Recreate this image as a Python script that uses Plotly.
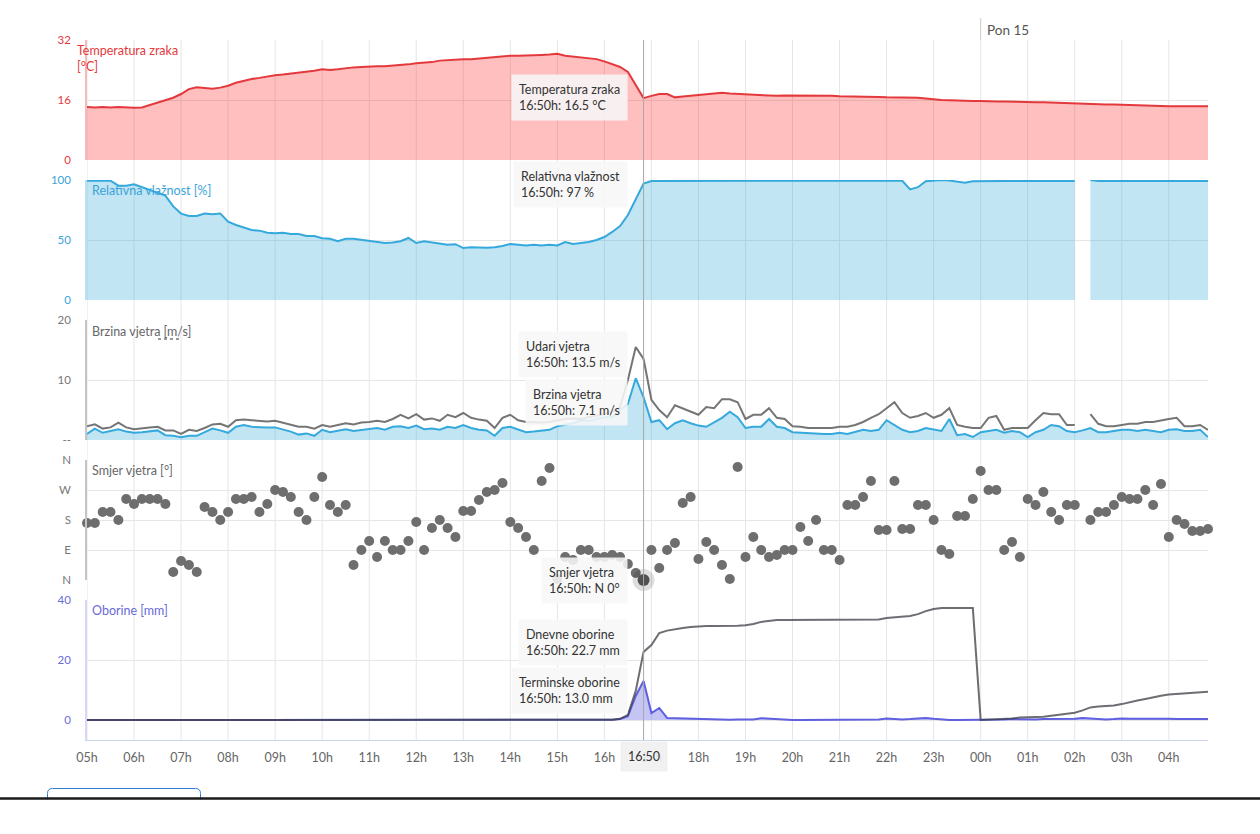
import pandas as pd
import plotly.graph_objects as go

# ---------------- data (10-minute steps, 05:00 -> 04:50 next day) ----------------
times = pd.date_range("2024-07-14 05:00", periods=144, freq="10min")

temperature = [
    14.1, 14.0, 14.1, 14.0, 14.1, 14.0, 13.9, 14.0, 14.6, 15.2, 15.8, 16.6,
    17.6, 18.9, 19.4, 19.2, 19.0, 19.3, 19.8, 20.6, 21.2, 21.6, 21.9, 22.3,
    22.6, 22.8, 23.0, 23.2, 23.5, 23.8, 24.2, 24.0, 24.2, 24.5, 24.7, 24.8,
    25.0, 25.0, 25.0, 25.1, 25.3, 25.5, 25.8, 25.9, 26.1, 26.5, 26.7, 26.8,
    26.9, 26.9, 27.1, 27.3, 27.5, 27.7, 27.8, 27.8, 27.8, 27.9, 28.0, 28.1,
    28.3, 27.8, 27.6, 27.5, 27.2, 26.9, 26.3, 25.6, 24.8, 23.5, 20.0, 16.5,
    17.1, 17.6, 17.6, 16.7, 16.9, 17.1, 17.3, 17.6, 17.9, 17.9, 17.7, 17.6,
    17.5, 17.3, 17.3, 17.1, 17.1, 17.2, 17.2, 17.3, 17.2, 17.2, 17.1, 17.1,
    17.0, 17.0, 16.9, 16.9, 16.8, 16.8, 16.7, 16.7, 16.6, 16.5, 16.6, 16.4,
    16.1, 16.0, 15.9, 15.8, 15.8, 15.7, 15.7, 15.6, 15.6, 15.6, 15.5, 15.5,
    15.5, 15.4, 15.4, 15.3, 15.3, 15.2, 15.2, 15.1, 15.0, 14.9, 14.8, 14.8,
    14.7, 14.6, 14.5, 14.5, 14.4, 14.4, 14.3, 14.3, 14.3, 14.3, 14.3, 14.3,
]

humidity = [
    99.4, 99.4, 100, 99.4, 95.3, 95.3, 96.4, 94, 91.7, 89.5, 87, 78,
    72, 70, 70, 72, 71.4, 72, 65.3, 62.5, 60.3, 58.3, 57.8, 56.1,
    55.6, 56.1, 55, 55, 53.3, 53.3, 51.4, 51, 49, 51, 51, 50,
    49, 48, 47.5, 48, 49, 51.7, 47.5, 49, 48, 47.5, 46, 46.5,
    43.3, 44, 43.5, 43.5, 44, 45, 46.7, 46, 45.5, 46, 45.5, 46,
    45.5, 48.3, 46.7, 47.5, 48.3, 50, 52.5, 56.7, 61.7, 70.8, 83.3, 97,
    99.2, 99.2, 99.2, 99.2, 99.2, 99.2, 99.2, 99.2, 99.2, 99.2, 99.2, 99.2,
    99.2, 99.2, 99.2, 99.2, 99.2, 99.2, 99.2, 99.2, 99.2, 99.2, 99.2, 99.2,
    99.2, 99.2, 99.2, 99.2, 99.2, 99.2, 99.2, 99.2, 99.4, 92.2, 94, 99,
    99.5, 100, 99.5, 98.5, 97.8, 99, 99.2, 99.2, 99.2, 99.2, 99.2, 99.2,
    99.2, 99.2, 99.2, 99.2, 99.2, 99.2, 99.2, None, 100, 99.2, 99.2, 99.2,
    99.2, 99.2, 99.2, 99.2, 99.2, 99.2, 99.2, 99.2, 99.2, 99.2, 99.2, 99.2,
]

wind_speed = [
    1.0, 1.9, 1.2, 1.5, 1.8, 1.4, 1.2, 1.3, 1.4, 1.6, 0.8, 0.7,
    0.45, 0.7, 0.7, 1.3, 1.9, 1.6, 1.2, 2.2, 2.5, 2.2, 2.1, 2.1,
    2.1, 1.8, 1.4, 0.9, 1.1, 0.7, 1.7, 1.3, 1.6, 1.8, 1.5, 1.7,
    1.8, 2.0, 1.7, 2.2, 2.3, 2.0, 2.4, 1.8, 1.9, 1.7, 2.2, 2.0,
    2.5, 2.0, 1.7, 1.6, 0.7, 2.0, 2.2, 1.8, 1.3, 1.4, 1.6, 1.7,
    2.3, 2.5, 2.8, 3.3, 3.2, 3.5, 3.8, 3.8, 5.0, 6.0, 10.3, 7.1,
    3.0, 3.3, 1.8, 2.8, 3.3, 2.8, 2.4, 2.2, 3.0, 3.7, 4.7, 3.8,
    2.0, 2.2, 2.2, 3.5, 2.2, 2.0, 1.3, 1.2, 1.2, 1.0, 1.0, 1.0,
    1.2, 1.0, 1.3, 1.7, 1.5, 1.7, 3.3, 2.5, 1.7, 1.3, 1.5, 2.0,
    1.7, 1.5, 3.5, 0.8, 1.0, 0.5, 1.3, 1.5, 1.7, 1.2, 1.5, 1.3,
    0.5, 1.3, 1.7, 2.5, 2.3, 1.5, 1.3, 1.6, 2.0, 1.3, 1.3, 1.5,
    1.7, 1.7, 1.5, 1.7, 1.5, 1.3, 1.7, 1.8, 1.5, 1.5, 1.7, 0.5,
]

wind_gust = [
    2.3, 2.6, 1.9, 2.1, 2.9, 2.1, 1.8, 2.0, 2.1, 2.2, 1.6, 1.6,
    1.0, 1.7, 1.5, 2.0, 2.6, 2.7, 2.2, 3.3, 3.4, 3.3, 3.2, 3.1,
    3.2, 2.9, 2.5, 2.2, 2.2, 1.9, 2.5, 2.2, 2.5, 2.8, 2.6, 2.9,
    3.0, 3.2, 3.0, 3.5, 4.2, 3.6, 4.3, 3.4, 3.6, 3.2, 4.2, 3.8,
    4.5, 3.7, 3.4, 3.2, 2.0, 3.7, 4.2, 3.3, 3.0, 2.9, 2.9, 3.0,
    3.3, 3.5, 3.6, 3.5, 3.8, 4.0, 4.3, 4.7, 5.5, 10.0, 15.5, 13.5,
    6.7, 5.0, 3.8, 5.8, 5.3, 4.8, 4.2, 5.5, 5.3, 6.8, 6.8, 6.3,
    3.5, 4.2, 4.2, 5.3, 3.7, 3.5, 2.3, 2.2, 2.0, 2.0, 2.0, 2.0,
    2.2, 2.2, 2.5, 3.0, 3.7, 4.3, 5.3, 6.3, 4.5, 3.7, 4.0, 4.5,
    3.7, 4.2, 5.3, 2.5, 2.2, 2.0, 2.0, 3.7, 4.0, 1.7, 2.0, 2.0,
    2.0, 3.3, 4.5, 4.3, 4.3, 2.5, 2.5, None, 4.3, 2.7, 2.3, 2.3,
    2.5, 2.7, 2.7, 3.0, 3.0, 3.3, 3.5, 3.7, 2.3, 2.3, 2.5, 1.7,
]

wind_dir = [
    171, 171, 204, 204, 180, 243, 228, 243, 243, 243, 228, 24,
    57, 45, 24, 219, 204, 180, 204, 243, 243, 249, 204, 228,
    270, 264, 249, 204, 180, 249, 309, 225, 204, 225, 45, 90,
    117, 69, 117, 90, 90, 117, 174, 90, 156, 180, 156, 129,
    207, 207, 240, 264, 270, 291, 174, 156, 129, 90, 297, 336,
    3, 69, 60, 90, 90, 69, 69, 75, 69, 48, 21, 0,
    90, 36, 90, 111, 231, 249, 63, 114, 90, 45, 3, 339,
    69, 129, 90, 69, 75, 90, 90, 159, 117, 180, 90, 90,
    60, 225, 225, 249, 297, 150, 150, 297, 153, 153, 225, 225,
    180, 90, 78, 192, 192, 243, 327, 270, 270, 90, 114, 69,
    243, 225, 264, 204, 180, 225, 225, None, 180, 204, 204, 225,
    249, 243, 243, 270, 225, 288, 129, 180, 168, 147, 147, 153,
]

precip_daily = [0.0] * 67 + [
    0.1, 0.4, 1.7, 9.7, 22.7,
    25.0, 29.0, 29.8, 30.3, 30.7, 31.0, 31.2, 31.3, 31.3, 31.3, 31.3, 31.4,
    31.6, 32.0, 32.7, 33.0, 33.3, 33.3, 33.3, 33.3, 33.3, 33.3, 33.3, 33.3,
    33.3, 33.3, 33.3, 33.3, 33.3, 33.5, 34.0, 34.3, 34.5, 34.7, 35.3, 36.3,
    37.0, 37.3, 37.3, 37.3, 37.3, 37.3,
    0.0, 0.1, 0.2, 0.3, 0.5, 0.8, 1.0, 1.0, 1.1, 1.4, 1.8, 2.1,
    2.4, 3.2, 4.2, 4.5, 4.6, 4.8, 5.3, 6.0, 6.5, 7.0, 7.6, 8.1,
    8.5, 8.7, 8.8, 9.0, 9.2, 9.4,
]

precip_term = [0.0] * 67 + [
    0.1, 0.3, 1.3, 8.0, 13.0,
    2.3, 4.0, 0.7, 0.6, 0.5, 0.4, 0.3, 0.3, 0.2, 0.2, 0.1, 0.2,
    0.1, 0.2, 0.6, 0.4, 0.2, 0.1, 0.0, 0.0, 0.0, 0.0, 0.0, 0.0,
    0.0, 0.0, 0.0, 0.0, 0.0, 0.2, 0.5, 0.3, 0.2, 0.3, 0.6, 0.7,
    0.4, 0.1, 0.0, 0.0, 0.0, 0.0,
    0.0, 0.1, 0.2, 0.2, 0.3, 0.2, 0.1, 0.2, 0.3, 0.3, 0.4, 0.3,
    0.4, 0.7, 0.5, 0.3, 0.2, 0.3, 0.5, 0.4, 0.4, 0.5, 0.6, 0.5,
    0.4, 0.3, 0.3, 0.4, 0.4, 0.3,
]

hour_ticks = pd.date_range("2024-07-14 05:00", periods=24, freq="1h")
hover_time = pd.Timestamp("2024-07-14 16:50")
day_start = pd.Timestamp("2024-07-15 00:00")
day_label = "Pon 15"

tooltips = [
    ("Temperatura zraka", "16:50h: 16.5 °C", 74),
    ("Relativna vlažnost", "16:50h: 97 %", 161),
    ("Udari vjetra", "16:50h: 13.5 m/s", 331),
    ("Brzina vjetra", "16:50h: 7.1 m/s", 379),
    ("Smjer vjetra", "16:50h: N 0°", 557),
    ("Dnevne oborine", "16:50h: 22.7 mm", 619),
    ("Terminske oborine", "16:50h: 13.0 mm", 667),
]

# ---------------- layout geometry ----------------
W, H = 1260, 834
L, R, T, B = 87, 1208, 40, 740
PW, PH = R - L, B - T


def px_x(px):
    return (px - L) / PW


def px_y(py):
    return (B - py) / PH


FONT = "Lato, Noto Sans, sans-serif"
RED = "#e3393c"
BLUE = "#35a9dc"
GREY = "#6e6e6e"
PURPLE = "#5f5fe0"
GRID = "#e6e6e6"

fig = go.Figure()


def segments(xs, ys):
    """split a series into contiguous runs (breaking at missing values)"""
    runs, cx, cy = [], [], []
    for x, y in zip(xs, ys):
        if y is None:
            if cx:
                runs.append((cx, cy))
            cx, cy = [], []
        else:
            cx.append(x)
            cy.append(y)
    if cx:
        runs.append((cx, cy))
    return runs


# temperature
fig.add_trace(go.Scatter(x=times, y=temperature, yaxis="y", mode="lines",
                         line=dict(color=RED, width=2), fill="tozeroy",
                         fillcolor="rgba(255,0,0,0.25)"))
# humidity (gap in the data breaks the area)
for sx, sy in segments(times, humidity):
    fig.add_trace(go.Scatter(x=sx, y=sy, yaxis="y2", mode="lines",
                             line=dict(color=BLUE, width=2), fill="tozeroy",
                             fillcolor="rgba(53,169,220,0.3)"))
# wind speed and gusts
fig.add_trace(go.Scatter(x=times, y=wind_speed, yaxis="y3", mode="lines",
                         line=dict(color=BLUE, width=2), fill="tozeroy",
                         fillcolor="rgba(53,169,220,0.3)"))
fig.add_trace(go.Scatter(x=times, y=wind_gust, yaxis="y3", mode="lines",
                         line=dict(color="rgba(110,110,110,0.95)", width=2),
                         connectgaps=False))
# wind direction
fig.add_trace(go.Scatter(x=times, y=wind_dir, yaxis="y4", mode="markers",
                         marker=dict(color=GREY, size=10), cliponaxis=False))
fig.add_trace(go.Scatter(x=[hover_time], y=[wind_dir[71]], yaxis="y4", mode="markers",
                         marker=dict(color="rgba(0,0,0,0.13)", size=22), cliponaxis=False))
fig.add_trace(go.Scatter(x=[hover_time], y=[wind_dir[71]], yaxis="y4", mode="markers",
                         marker=dict(color="#505050", size=12), cliponaxis=False))
# precipitation
fig.add_trace(go.Scatter(x=times, y=precip_term, yaxis="y5", mode="lines",
                         line=dict(color=PURPLE, width=2), fill="tozeroy",
                         fillcolor="rgba(90,90,225,0.35)"))
fig.add_trace(go.Scatter(x=times, y=precip_daily, yaxis="y5", mode="lines",
                         line=dict(color="rgba(60,60,70,0.75)", width=2)))

shapes = []
# vertical grid lines spanning all panels
for t in hour_ticks:
    shapes.append(dict(type="line", xref="x", yref="paper", x0=t, x1=t, y0=0, y1=1,
                       line=dict(color=GRID, width=1), layer="below"))
# crosshair
shapes.append(dict(type="line", xref="x", yref="paper", x0=hover_time, x1=hover_time,
                   y0=0, y1=1, line=dict(color="#a8a8a8", width=1), layer="above"))
# day separator
shapes.append(dict(type="line", xref="x", yref="paper", x0=day_start, x1=day_start,
                   y0=1, y1=px_y(18), line=dict(color="#cccccc", width=1)))
# dotted underline on m/s
shapes.append(dict(type="line", xref="paper", yref="paper", x0=px_x(158), x1=px_x(181),
                   y0=px_y(339), y1=px_y(339), line=dict(color="#333", width=1, dash="dot")))
# bottom page decorations: rounded button outline cut by a dark rule
bx0, bx1, byt, byb = px_x(47.5), px_x(200.5), px_y(788.5), px_y(806)
rx, ry = 5 / PW, 5 / PH
btn_path = (f"M {bx0},{byb} L {bx0},{byt - ry} Q {bx0},{byt} {bx0 + rx},{byt} "
            f"L {bx1 - rx},{byt} Q {bx1},{byt} {bx1},{byt - ry} L {bx1},{byb}")
shapes.append(dict(type="path", xref="paper", yref="paper", path=btn_path,
                   line=dict(color="#2f7bd6", width=1)))
shapes.append(dict(type="rect", xref="paper", yref="paper", x0=px_x(0), x1=px_x(1260),
                   y0=px_y(834), y1=px_y(799.5), line=dict(width=0), fillcolor="white"))
shapes.append(dict(type="line", xref="paper", yref="paper", x0=px_x(0), x1=px_x(1260),
                   y0=px_y(798.5), y1=px_y(798.5), line=dict(color="#1a1a1a", width=2.5)))

annotations = []
# panel titles
titles = [
    ("Temperatura zraka<br>[°C]", 75, 41, RED),
    ("Relativna vlažnost [%]", 90, 181, "#3aa3d8"),
    ("Brzina vjetra [m/s]", 90, 322, "#666666"),
    ("Smjer vjetra [°]", 90, 461, "#666666"),
    ("Oborine [mm]", 90, 601, "#6a6ad8"),
]
for text, x, y, c in titles:
    annotations.append(dict(text=text, xref="paper", yref="paper", x=px_x(x), y=px_y(y),
                            xanchor="left", yanchor="top", showarrow=False, align="left",
                            font=dict(family=FONT, size=12.5, color=c)))
# tooltips
for title, value, top in tooltips:
    annotations.append(dict(text=f"{title}<br>{value}", xref="x", yref="paper",
                            x=hover_time, xshift=-16, y=px_y(top), xanchor="right",
                            yanchor="top", showarrow=False, align="left",
                            bgcolor="rgba(247,247,247,0.88)", borderpad=7,
                            font=dict(family=FONT, size=12.5, color="#333333")))
# x-axis crosshair label
annotations.append(dict(text="16:50", xref="x", yref="paper", x=hover_time, y=px_y(741),
                        xanchor="center", yanchor="top", showarrow=False,
                        bgcolor="rgba(240,240,240,0.92)", borderpad=7,
                        font=dict(family=FONT, size=12.5, color="#333333")))
# day label
annotations.append(dict(text=day_label, xref="x", yref="paper", x=day_start, xshift=4,
                        y=px_y(30), xanchor="left", yanchor="middle", showarrow=False,
                        font=dict(family=FONT, size=13.5, color="#555555")))


def yax(domain, rng, tickvals, color, linecolor, ticktext=None):
    d = dict(domain=domain, range=rng, tickvals=tickvals, showgrid=True, gridcolor=GRID,
             gridwidth=1, zeroline=False, showline=True, linecolor=linecolor, linewidth=1.5,
             tickfont=dict(family=FONT, size=11.5, color=color), ticks="",
             ticklabelstandoff=12, anchor="x", fixedrange=True)
    if ticktext is not None:
        d["ticktext"] = ticktext
    return d


fig.update_layout(
    width=W, height=H, autosize=False,
    margin=dict(l=L, r=W - R, t=T, b=H - B),
    paper_bgcolor="white", plot_bgcolor="rgba(0,0,0,0)",
    showlegend=False, hovermode=False,
    xaxis=dict(type="date", range=[times[0], times[-1]], tickvals=list(hour_ticks),
               tickformat="%Hh", showgrid=False, zeroline=False, showline=True,
               linecolor="#ccd6eb", linewidth=1, ticks="", anchor="y5",
               tickfont=dict(family=FONT, size=12.5, color="#666666"),
               ticklabelstandoff=6),
    yaxis=yax([580 / 700, 1], [0, 32], [0, 16, 32], RED, "rgba(227,57,60,0.35)"),
    yaxis2=yax([440 / 700, 560 / 700], [0, 100], [0, 50, 100], "#3aa3d8", "rgba(53,169,220,0.35)"),
    yaxis3=yax([300 / 700, 420 / 700], [0, 20], [0, 10, 20], "#777777", "#c4c4c4",
               ticktext=["--", "10", "20"]),
    yaxis4=yax([160 / 700, 280 / 700], [0, 360], [0, 90, 180, 270, 360], "#777777", "#c4c4c4",
               ticktext=["N", "E", "S", "W", "N"]),
    yaxis5=yax([0, 140 / 700], [-20 / 3, 40], [0, 20, 40], "#6a6ad8", "#d8d8f4"),
    shapes=shapes,
    annotations=annotations,
)

fig.write_html("out.html")
